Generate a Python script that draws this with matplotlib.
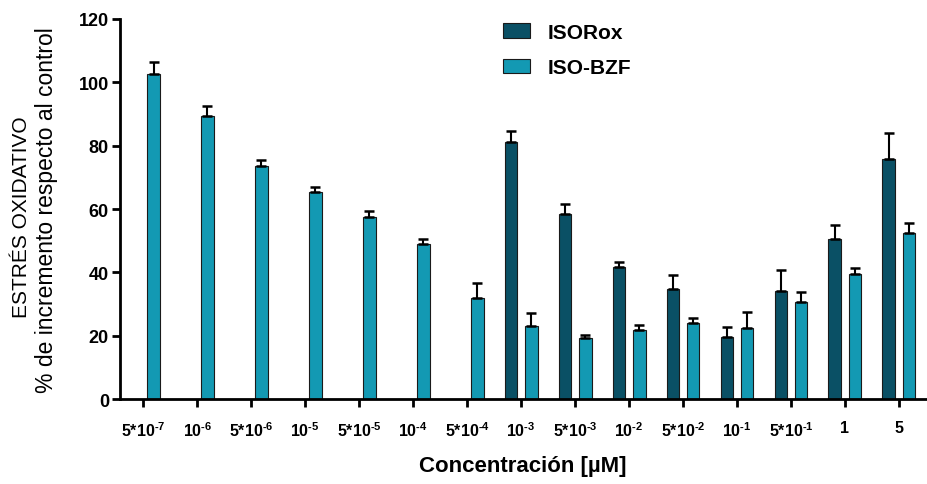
import matplotlib
matplotlib.use("Agg")
import matplotlib.pyplot as plt
import numpy as np

categories = ["5*10$^{\\text{-}7}$", "10$^{\\text{-}6}$", "5*10$^{\\text{-}6}$", "10$^{\\text{-}5}$",
              "5*10$^{\\text{-}5}$", "10$^{\\text{-}4}$", "5*10$^{\\text{-}4}$", "10$^{\\text{-}3}$",
              "5*10$^{\\text{-}3}$", "10$^{\\text{-}2}$", "5*10$^{\\text{-}2}$", "10$^{\\text{-}1}$",
              "5*10$^{\\text{-}1}$", "1", "5"]
isorox = [np.nan] * 7 + [81.1, 58.4, 41.6, 34.7, 19.6, 34.2, 50.6, 75.7]
isorox_err = [np.nan] * 7 + [3.4, 3.1, 1.8, 4.6, 3.2, 6.4, 4.2, 8.2]
isobzf = [102.6, 89.5, 73.5, 65.5, 57.5, 49.0, 32.0, 23.0, 19.2, 21.8, 23.9, 22.6, 30.8, 39.5, 52.4]
isobzf_err = [3.8, 3.0, 2.0, 1.5, 2.0, 1.5, 4.5, 4.1, 1.1, 1.7, 1.6, 4.8, 3.1, 1.9, 3.2]

plt.rcParams['font.family'] = ['Liberation Sans', 'DejaVu Sans']
plt.rcParams['mathtext.fontset'] = 'custom'
plt.rcParams['mathtext.bf'] = 'Liberation Sans:bold'
plt.rcParams['mathtext.rm'] = 'Liberation Sans:bold'
plt.rcParams['mathtext.default'] = 'bf'

dark = "#0a5065"
light = "#1399b3"

fig = plt.figure(figsize=(9.27, 4.85), dpi=100)
ax = fig.add_axes([0.1295, 0.175, 0.8705, 0.784])

x = np.arange(len(categories))
w = 0.23
off = 0.19
ax.bar(x - off, isorox, w, color=dark, edgecolor="#1a1a1a", linewidth=0.8, label="ISORox", zorder=2)
ax.bar(x + off, isobzf, w, color=light, edgecolor="#1a1a1a", linewidth=0.8, label="ISO-BZF", zorder=2)
ax.errorbar(x - off, isorox, yerr=[np.zeros(len(x)), isorox_err], fmt="none",
            ecolor="black", elinewidth=1.5, capsize=3.5, capthick=1.8, zorder=3)
ax.errorbar(x + off, isobzf, yerr=[np.zeros(len(x)), isobzf_err], fmt="none",
            ecolor="black", elinewidth=1.5, capsize=3.5, capthick=1.8, zorder=3)

ax.set_xlim(-0.43, 14.52)
ax.set_ylim(0, 120)
ax.set_yticks([0, 20, 40, 60, 80, 100, 120])
ax.set_xticks(x)
ax.set_xticklabels(categories, fontsize=11.5, fontweight="bold")
for lab in ax.get_yticklabels():
    lab.set_fontweight("bold")
    lab.set_fontsize(13)

for s in ["top", "right"]:
    ax.spines[s].set_visible(False)
ax.spines["left"].set_linewidth(2)
ax.spines["bottom"].set_linewidth(2)
ax.tick_params(axis="both", direction="out", width=2, length=6, colors="black")
ax.tick_params(axis="x", pad=9)
ax.tick_params(axis="y", pad=2)

fig.text(22 / 927, 1 - 217 / 485, "ESTRÉS OXIDATIVO", rotation=90, ha="center", va="center",
         fontsize=15)
fig.text(47 / 927, 1 - 210 / 485, "% de incremento respecto al control", rotation=90,
         ha="center", va="center", fontsize=16.5)
fig.text(523 / 927, 1 - 467 / 485, "Concentración [µM]", ha="center", va="center",
         fontsize=16, fontweight="bold")

leg = ax.legend(loc="upper left", bbox_to_anchor=(0.4746, 0.99), frameon=False,
                prop={"weight": "bold", "size": 15}, handlelength=1.3, handleheight=0.7,
                labelspacing=0.8, handletextpad=0.85, borderpad=0, borderaxespad=0)

fig.savefig("out.png", dpi=100)
